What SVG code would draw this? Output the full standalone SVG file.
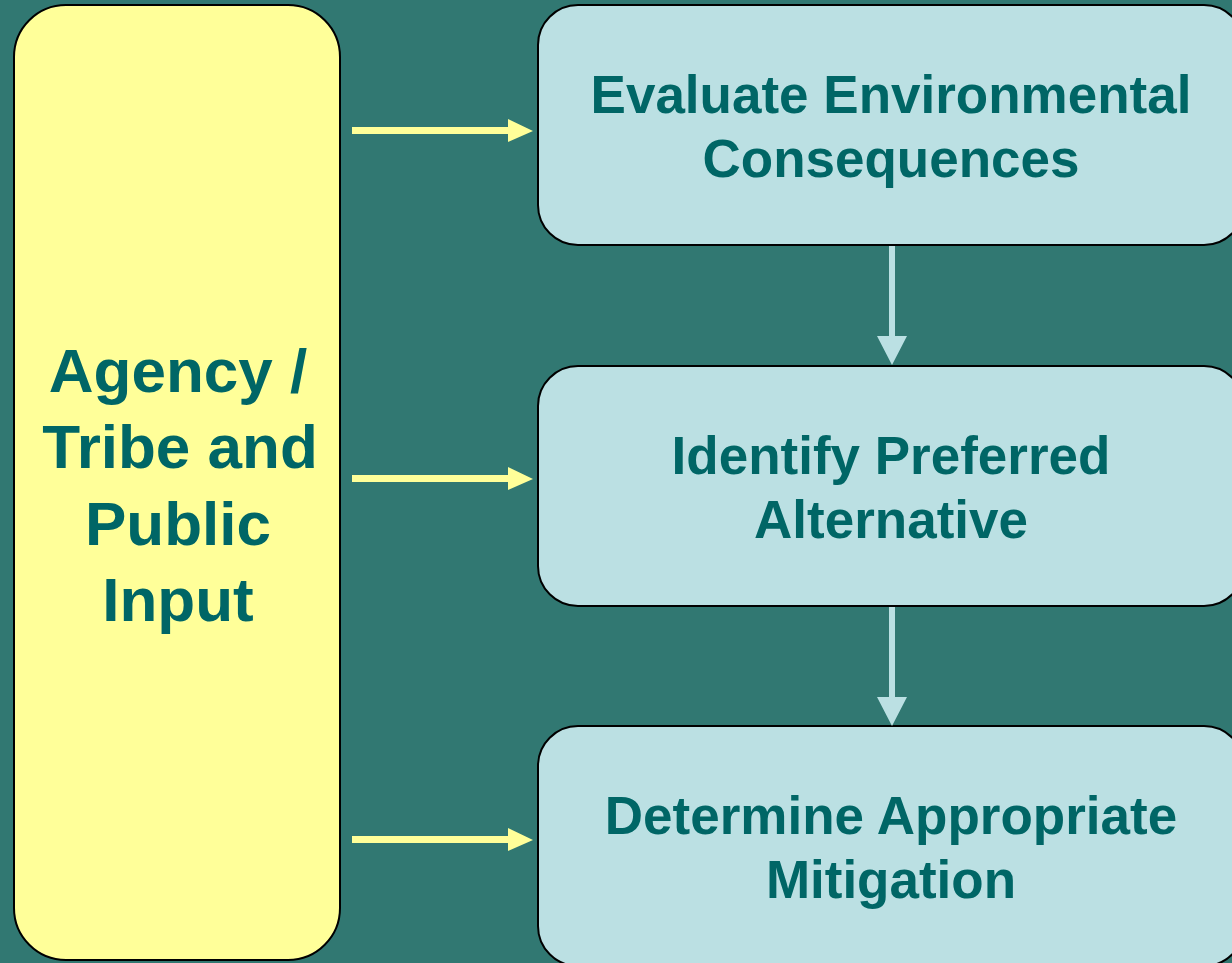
<svg xmlns="http://www.w3.org/2000/svg" width="1232" height="963" viewBox="0 0 1232 963">
  <style>
    .input { fill: #FFFF99; stroke: #000; stroke-width: 2; }
    .step { fill: #BBE0E3; stroke: #000; stroke-width: 2; }
    .label { font-family: "Liberation Sans", Arial, sans-serif; font-weight: bold; fill: #006666; text-anchor: middle; }
    .big { font-size: 62px; }
    .mid { font-size: 53px; }
    .feed { fill: #FFFF99; }
    .flow { fill: #BBE0E3; }
  </style>
  <rect width="1232" height="963" fill="#317872"/>

  <g id="input-node">
    <rect class="input" x="14" y="5" width="326" height="955" rx="52" ry="52"/>
    <text class="label big" x="178" y="392">Agency /</text>
    <text class="label big" x="180" y="468">Tribe and</text>
    <text class="label big" x="178" y="545">Public</text>
    <text class="label big" x="178" y="621">Input</text>
  </g>

  <g id="evaluate-node">
    <rect class="step" x="538" y="5" width="706" height="240" rx="40" ry="40"/>
    <text class="label mid" x="891" y="113">Evaluate Environmental</text>
    <text class="label mid" x="891" y="177">Consequences</text>
  </g>

  <g id="identify-node">
    <rect class="step" x="538" y="366" width="706" height="240" rx="40" ry="40"/>
    <text class="label mid" x="891" y="474">Identify Preferred</text>
    <text class="label mid" x="891" y="538">Alternative</text>
  </g>

  <g id="mitigation-node">
    <rect class="step" x="538" y="726" width="706" height="240" rx="40" ry="40"/>
    <text class="label mid" x="891" y="834">Determine Appropriate</text>
    <text class="label mid" x="891" y="898">Mitigation</text>
  </g>

  <g id="connectors">
    <!-- input feeds into each step -->
    <polygon class="feed" points="352,127 508,127 508,119 533,131 508,142 508,134 352,134"/>
    <polygon class="feed" points="352,475 508,475 508,467 533,479 508,490 508,482 352,482"/>
    <polygon class="feed" points="352,836 508,836 508,828 533,840 508,851 508,843 352,843"/>
    <!-- step to step flow -->
    <polygon class="flow" points="889,246 895,246 895,336 907,336 892,365 877,336 889,336"/>
    <polygon class="flow" points="889,607 895,607 895,697 907,697 892,726 877,697 889,697"/>
  </g>
</svg>
